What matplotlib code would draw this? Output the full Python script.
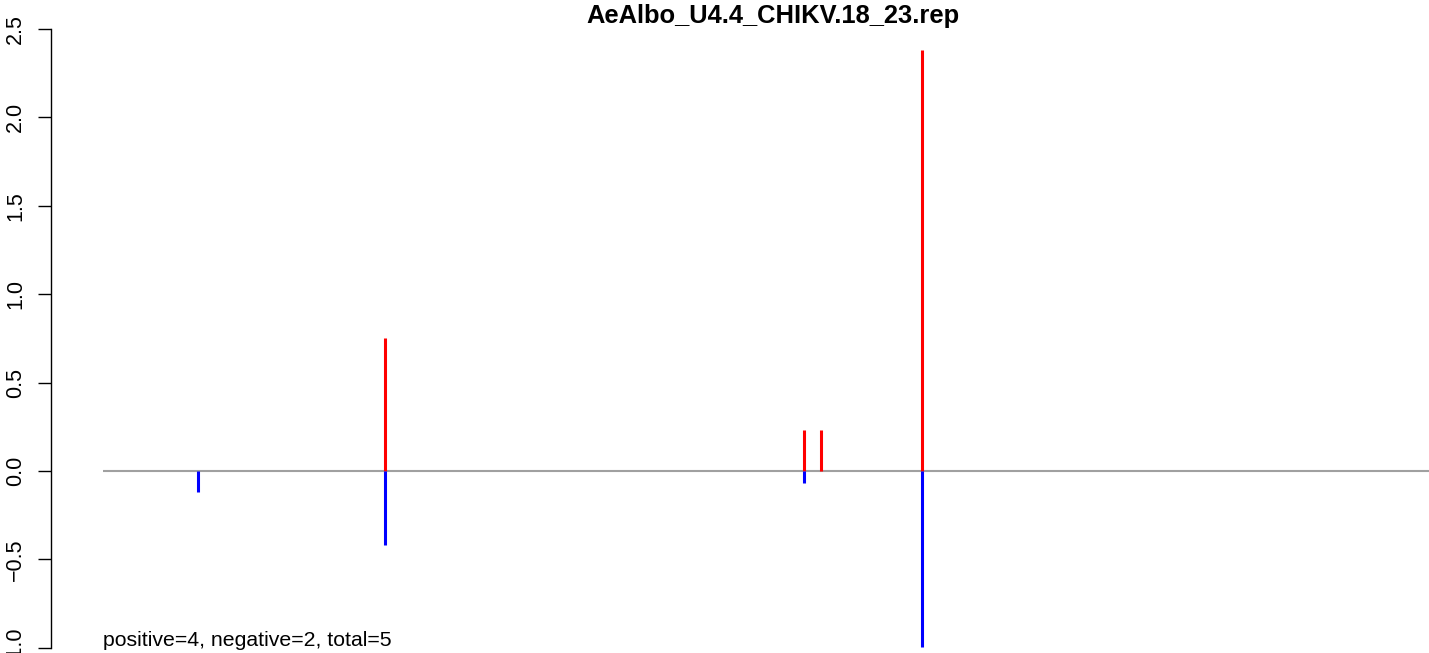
import numpy as np
import matplotlib.pyplot as plt

plt.rcParams['font.family'] = ['Liberation Sans', 'DejaVu Sans']

# --- data ---
pos_x = [385, 804, 821, 922]          # positions with positive score
pos_val = [0.75, 0.23, 0.23, 2.38]
neg_x = [198, 385, 804, 922]          # positions with negative score
neg_val = [-0.12, -0.42, -0.065, -0.995]
line_start = 103                      # start of the baseline
line_end = 1429
title = 'AeAlbo_U4.4_CHIKV.18_23.rep'
note = 'positive=4, negative=2, total=5'
yticks = [-1.0, -0.5, 0.0, 0.5, 1.0, 1.5, 2.0, 2.5]

W, H = 1429, 653
fig = plt.figure(figsize=(W / 100, H / 100), dpi=100)
ax = fig.add_axes([51 / W, 0, 1 - 51 / W, 1])

ax.hlines(0, line_start, line_end, color='#a0a0a0', lw=1.5, zorder=1)
ax.vlines(pos_x, 0, pos_val, color='red', lw=2.2, zorder=2)
ax.vlines(neg_x, 0, neg_val, color='blue', lw=2.2, zorder=2)

ax.set_xlim(51, W)
ax.set_ylim(-1.029, 2.664)

for s in ['top', 'right', 'bottom']:
    ax.spines[s].set_visible(False)
ax.spines['left'].set_bounds(-1.0, 2.5)
ax.spines['left'].set_linewidth(1.0)
ax.set_xticks([])
ax.set_yticks(yticks)
ax.set_yticklabels([f'{v:.1f}'.replace('-', '\u2212') for v in yticks],
                   rotation=90, va='center', fontsize=15.5)
ax.tick_params(axis='y', length=9.5, width=1.0, pad=8.5)

fig.text(773 / W, 1 - 23 / H, title, ha='center', va='baseline',
         fontsize=18.4, fontweight='bold')
fig.text(103 / W, 7 / H, note, ha='left', va='baseline', fontsize=15.3)

fig.savefig('out.png', dpi=100)
